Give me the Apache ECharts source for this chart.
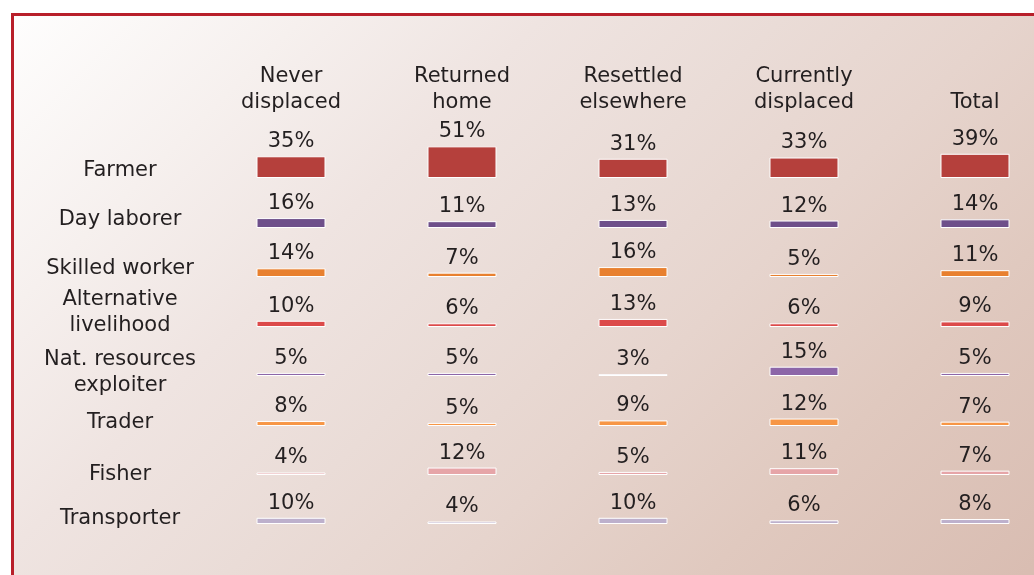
<html>
<head>
    <meta http-equiv="Content-Type" content="text/html; charset=utf-8" />
    <script src="https://cdn.jsdelivr.net/npm/echarts@6/dist/echarts.min.js"></script>
    <style>
        body { margin: 0; background: #ffffff; }
        #main { width: 1034px; height: 575px; }
    </style>
</head>
<body>
    <div id="main"></div>
    <script type="text/javascript">

        // data
        var groups = ['Never\ndisplaced', 'Returned\nhome', 'Resettled\nelsewhere', 'Currently\ndisplaced', 'Total'];
        var occupations = ['Farmer', 'Day laborer', 'Skilled worker', 'Alternative\nlivelihood',
            'Nat. resources\nexploiter', 'Trader', 'Fisher', 'Transporter'];
        var farmer = [35, 51, 31, 33, 39];
        var dayLaborer = [16, 11, 13, 12, 14];
        var skilledWorker = [14, 7, 16, 5, 11];
        var altLivelihood = [10, 6, 13, 6, 9];
        var natResources = [5, 5, 3, 15, 5];
        var trader = [8, 5, 9, 12, 7];
        var fisher = [4, 12, 5, 11, 7];
        var transporter = [10, 4, 10, 6, 8];
        var rows = [farmer, dayLaborer, skilledWorker, altLivelihood, natResources, trader, fisher, transporter];

        // layout / style
        var rowColors = ['#b5403c', '#6e4f8a', '#e8802f', '#dc4a4a', '#8c66a8', '#f79646', '#e6a5a8', '#bdb0cc'];
        var rowBase = [178, 228, 277, 327, 376, 426, 475, 524];
        var labelY = [171, 220, 269, 313, 373, 423, 475, 519];
        var gridH = 36;
        var font = 'DejaVu Sans';
        var textColor = '#231f20';

        var grids = [], xAxes = [], yAxes = [], series = [], texts = [];

        // framed panel with diagonal gradient
        texts.push({
            type: 'rect',
            z: -10,
            shape: { x: 12.5, y: 14.5, width: 1100, height: 700 },
            style: {
                fill: {
                    type: 'linear', global: true, x: 0, y: 0, x2: 800, y2: 800,
                    colorStops: [
                        { offset: 0, color: '#ffffff' },
                        { offset: 0.2, color: '#f6f0ee' },
                        { offset: 0.35, color: '#efe4e1' },
                        { offset: 0.5, color: '#eadcd7' },
                        { offset: 0.64, color: '#e6d4cd' },
                        { offset: 0.8, color: '#e0c9bf' },
                        { offset: 1, color: '#d9bdb2' }
                    ]
                },
                stroke: '#b81f2a',
                lineWidth: 3
            }
        });

        for (var i = 0; i < rows.length; i++) {
            grids.push({ left: 291, width: 684, top: rowBase[i] - gridH, height: gridH });
            xAxes.push({
                type: 'category',
                gridIndex: i,
                data: groups,
                boundaryGap: false,
                position: 'top',
                axisLine: { show: false },
                axisTick: { show: false },
                axisLabel: {
                    show: i === 0,
                    margin: 26,
                    fontFamily: font,
                    fontSize: 21,
                    lineHeight: 26,
                    color: textColor,
                    verticalAlign: 'bottom'
                }
            });
            yAxes.push({ type: 'value', gridIndex: i, min: 0, max: 58, show: false });
            series.push({
                type: 'bar',
                xAxisIndex: i,
                yAxisIndex: i,
                data: rows[i],
                barWidth: 69,
                itemStyle: { color: rowColors[i], borderColor: '#ffffff', borderWidth: 1 },
                label: {
                    show: true,
                    position: 'top',
                    distance: 4,
                    formatter: '{c}%',
                    fontFamily: font,
                    fontSize: 21,
                    color: textColor
                },
                silent: true,
                animation: false
            });
            texts.push({
                type: 'text',
                x: 120,
                y: labelY[i],
                style: {
                    text: occupations[i],
                    fontFamily: font,
                    fontSize: 21,
                    lineHeight: 26,
                    fill: textColor,
                    textAlign: 'center',
                    textVerticalAlign: 'middle'
                }
            });
        }

        var myChart = echarts.init(document.getElementById('main'));
        myChart.setOption({
            animation: false,
            graphic: texts,
            grid: grids,
            xAxis: xAxes,
            yAxis: yAxes,
            series: series
        });
    </script>
</body>
</html>
